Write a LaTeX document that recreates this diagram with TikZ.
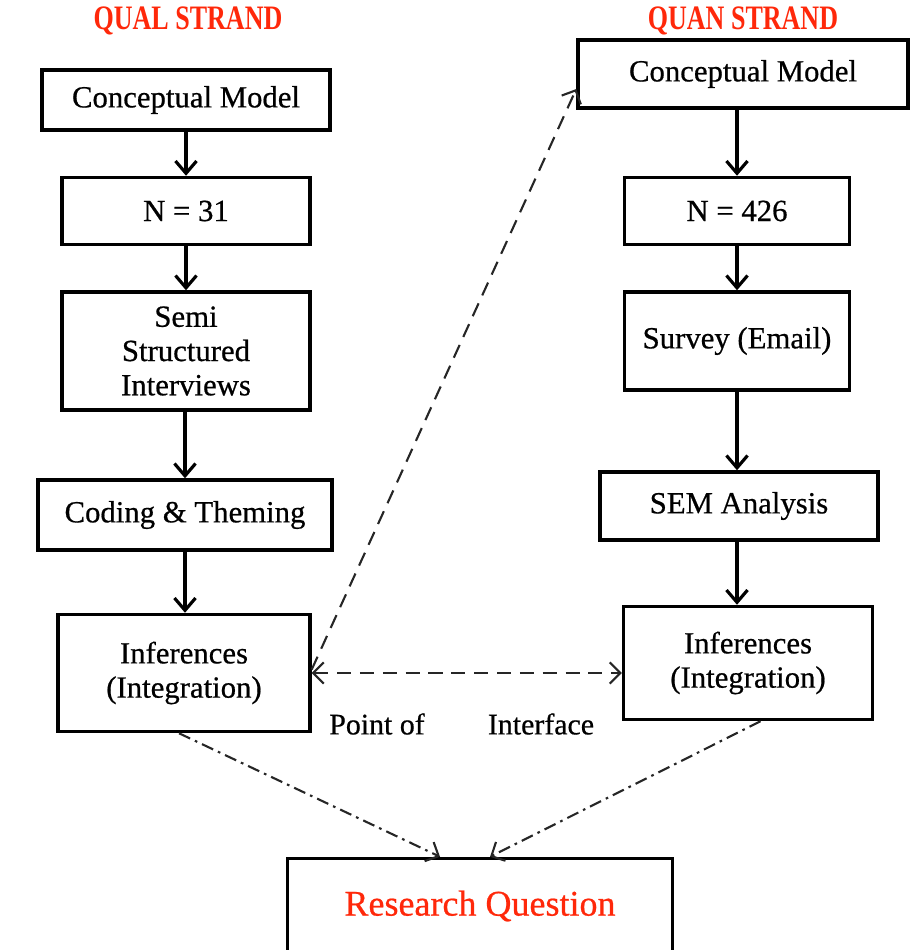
\documentclass[tikz,border=0pt]{standalone}
\usepackage{fontspec}
\setmainfont[FakeBold=0.6]{Liberation Serif}
\newfontfamily\headfont[FakeStretch=0.76]{Liberation Serif}
\usepackage{tikz}
\usetikzlibrary{positioning, arrows.meta}
\definecolor{strandred}{RGB}{255,40,10}

\begin{document}
\begin{tikzpicture}[x=0.02cm, y=-0.02cm,
    box/.style={draw, line width=2pt, align=center, inner sep=0pt,
        font=\fontsize{17.5}{19.5}\selectfont},
    flow/.style={line width=1.8pt, -{Straight Barb[length=7pt, width=12pt, line width=1.8pt]}},
    dashlink/.style={line width=1.2pt, gray!30!black, dash pattern=on 8pt off 5pt,
        -{Straight Barb[length=6pt, width=12pt, line width=1.2pt]}},
    result/.style={line width=1.2pt, gray!30!black, dash pattern=on 7pt off 3pt on 1.5pt off 3pt,
        -{Straight Barb[length=6pt, width=12pt, line width=1.2pt]}},
    heading/.style={font=\headfont\bfseries\fontsize{19.5}{20}\selectfont, text=strandred}]
    \useasboundingbox (0, 0) rectangle (911, 950);

    \node [heading] (qual) at (188, 21) {QUAL STRAND};
    \node [heading] (quan) at (743, 21) {QUAN STRAND};

    % qualitative strand
    \node [box, minimum width=5.76cm, minimum height=1.2cm] (cm1) at (186, 100) {Conceptual Model};
    \node [box, minimum width=4.96cm, minimum height=1.34cm] (n31) at (186, 211) {N = 31};
    \node [box, minimum width=4.96cm, minimum height=2.36cm] (semi) at (186, 351) {Semi\\Structured\\Interviews};
    \node [box, minimum width=5.88cm, minimum height=1.4cm] (coding) at (185, 515) {Coding \& Theming};
    \node [box, minimum width=5.04cm, minimum height=2.34cm] (infl) at (184, 673) {Inferences\\(Integration)};

    % quantitative strand
    \node [box, minimum width=6.6cm, minimum height=1.36cm] (cm2) at (743, 74) {Conceptual Model};
    \node [box, minimum width=4.5cm, minimum height=1.34cm] (n426) at (737, 211) {N = 426};
    \node [box, minimum width=4.5cm, minimum height=1.96cm] (survey) at (737, 341) {Survey (Email)};
    \node [box, minimum width=5.56cm, minimum height=1.36cm] (sem) at (739, 506) {SEM Analysis};
    \node [box, minimum width=4.98cm, minimum height=2.26cm] (infr) at (748, 663) {Inferences\\(Integration)};

    \node [box, minimum width=7.7cm, minimum height=1.9cm, text=strandred,
        font=\fontsize{20.5}{22}\selectfont] (rq) at (480, 906) {Research Question};

    \node [font=\fontsize{17}{19}\selectfont] (point) at (377, 724) {Point of};
    \node [font=\fontsize{17}{19}\selectfont] (interface) at (541, 724) {Interface};

    \draw [flow] (cm1) -- (n31);
    \draw [flow] (n31) -- (semi);
    \draw [flow] (semi.south -| coding.north) -- (coding);
    \draw [flow] (coding) -- (infl.north -| coding.south);
    \draw [flow] (cm2.south -| n426.north) -- (n426);
    \draw [flow] (n426) -- (survey);
    \draw [flow] (survey.south) -- (survey.south |- sem.north);
    \draw [flow] (sem.south -| survey.south) -- (infr.north -| survey.south);

    \draw [dashlink, <->, >={Straight Barb[length=6pt, width=12pt, line width=1.2pt]}]
        (infl.east) -- (infl.east -| infr.west);
    \draw [dashlink] ([yshift=2pt]infl.east) -- ([yshift=-0.3cm]cm2.west);
    \draw [result] ([xshift=-0.1cm]infl.south) -- ([xshift=-0.8cm]rq.north);
    \draw [result] ([xshift=0.25cm]infr.south) -- ([xshift=0.2cm]rq.north);
\end{tikzpicture}
\end{document}
